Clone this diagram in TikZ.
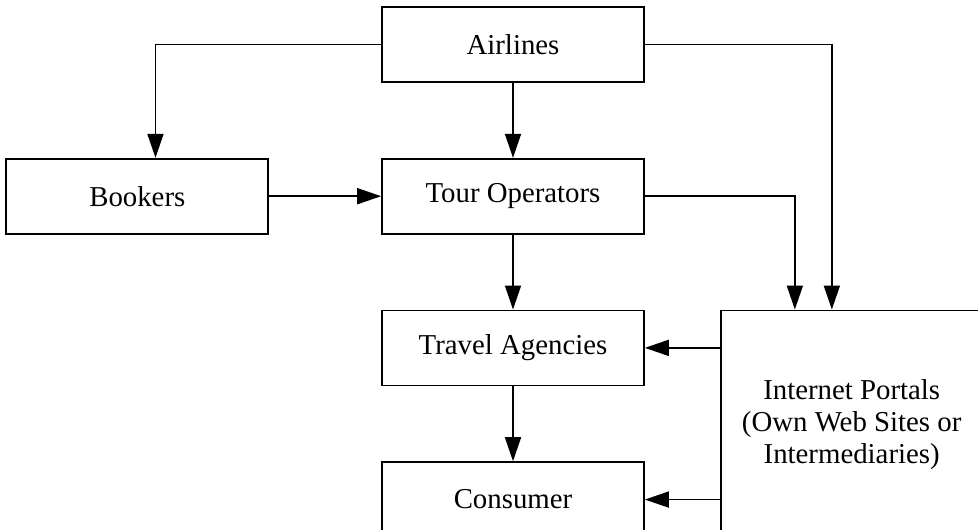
\documentclass[tikz,border=0pt]{standalone}
\usepackage{fontspec}
\setmainfont{Liberation Serif}
\usetikzlibrary{arrows.meta,positioning}

\begin{document}
\begin{tikzpicture}[
    node distance=1.875cm and 2.8cm,
    box/.style={draw, rectangle, line width=1.2pt, minimum width=6.55cm, minimum height=1.875cm, align=center, font=\fontsize{20.5}{22.8}\selectfont},
    arrow/.style={-{Triangle[length=6mm,width=4mm]}, line width=1.2pt}
]
    \clip (0,0) rectangle (24.45,-13.25);

    \node[box] (airlines) at (12.825,-1.1125) {Airlines};
    \node[box, below=of airlines] (tour) {Tour Operators};
    \node[box, left=of tour] (bookers) {Bookers};
    \node[box, below=of tour] (travel) {Travel Agencies};
    \node[box, below=of travel] (consumer) {Consumer};
    \node[box, right=1.875cm of travel.north east, anchor=north west, minimum height=5.7cm] (portals) {Internet Portals\\(Own Web Sites or\\Intermediaries)};

    % entry points on the top edges
    \coordinate (bookersin) at ([xshift=3.75cm]bookers.north west);
    \coordinate (portalsin1) at ([xshift=1.875cm]portals.north west);
    \coordinate (portalsin2) at ([xshift=2.8cm]portals.north west);

    \draw[arrow] (airlines.west) -| (bookersin);
    \draw[arrow] (airlines) -- (tour);
    \draw[arrow] (airlines.east) -| (portalsin2);
    \draw[arrow] (bookers) -- (tour);
    \draw[arrow] (tour.east) -| (portalsin1);
    \draw[arrow] (tour) -- (travel);
    \draw[arrow] (travel) -- (consumer);

    % back from the portals
    \draw[arrow] (portals.west |- travel) -- (travel);
    \draw[arrow] (portals.west |- consumer) -- (consumer);

\end{tikzpicture}
\end{document}
